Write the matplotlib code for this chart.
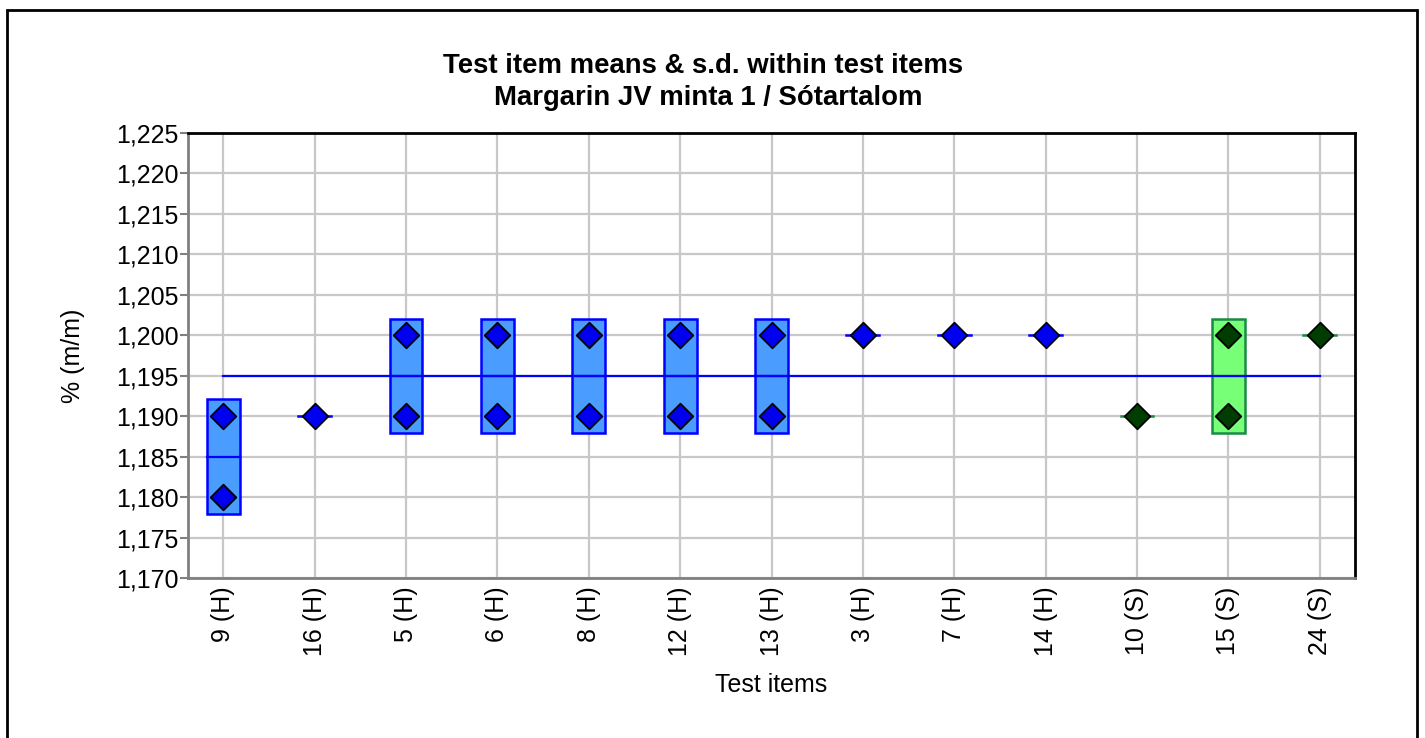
import numpy as np
import matplotlib.pyplot as plt
from matplotlib.patches import Rectangle
from matplotlib.ticker import FuncFormatter

plt.rcParams['font.family'] = ['Liberation Sans', 'DejaVu Sans']

# Test items and their individual results
items = ['9 (H)', '16 (H)', '5 (H)', '6 (H)', '8 (H)', '12 (H)', '13 (H)',
         '3 (H)', '7 (H)', '14 (H)', '10 (S)', '15 (S)', '24 (S)']
results = [[1.190, 1.180], [1.190], [1.200, 1.190], [1.200, 1.190],
           [1.200, 1.190], [1.200, 1.190], [1.200, 1.190], [1.200],
           [1.200], [1.200], [1.190], [1.200, 1.190], [1.200]]
item_type = ['H'] * 10 + ['S'] * 3

box_fill = {'H': '#4a9dff', 'S': '#77ff77'}
box_edge = {'H': '#0000ff', 'S': '#1b8a45'}
marker_col = {'H': '#0000ee', 'S': '#003d00'}

fig = plt.figure(figsize=(14.25, 7.38), dpi=100)
ax = fig.add_axes([188 / 1425, 1 - 578 / 738, (1355 - 188) / 1425, (578 - 133) / 738])

# outer frame
fig.patches.append(Rectangle((7 / 1425, -0.05), (1417 - 7) / 1425, 1.05 - 10 / 738,
                             transform=fig.transFigure, fill=False,
                             edgecolor='black', linewidth=2, zorder=0))

w = 0.36
x = np.arange(len(items))
means = [np.mean(r) for r in results]
grand_mean = np.mean(means)

for i, (vals, t) in enumerate(zip(results, item_type)):
    vals = np.array(vals)
    m = vals.mean()
    sd = vals.std(ddof=1) if len(vals) > 1 else 0.0
    if sd > 0:
        ax.add_patch(Rectangle((i - w / 2, m - sd), w, 2 * sd, facecolor=box_fill[t],
                               edgecolor=box_edge[t], linewidth=1.8, zorder=3))
        ax.plot([i - w / 2, i + w / 2], [m, m], color=box_edge[t], lw=1.6, zorder=4)
    else:
        ax.plot([i - w / 2, i + w / 2], [m, m], color=box_edge[t], lw=1.8, zorder=3)

ax.plot([x[0], x[-1]], [grand_mean, grand_mean], color='#0000ff', lw=1.6, zorder=5)

for i, (vals, t) in enumerate(zip(results, item_type)):
    ax.scatter([i] * len(vals), vals, marker='D', s=170, color=marker_col[t],
               edgecolor='black', linewidth=1.3, zorder=6)

ax.set_xlim(-0.385, len(items) - 1 + 0.385)
ax.set_ylim(1.170, 1.225)
ax.set_yticks(np.arange(1.170, 1.2251, 0.005))
ax.yaxis.set_major_formatter(FuncFormatter(lambda v, p: f'{v:.3f}'.replace('.', ',')))
ax.set_xticks(x)
ax.set_xticklabels(items, rotation=90)
ax.tick_params(axis='y', labelsize=18, length=6, width=1.5, color='#808080', pad=1)
ax.tick_params(axis='x', labelsize=18, length=0, pad=6)
ax.grid(True, color='#c8c8c8', linewidth=1.6, zorder=0)
ax.set_axisbelow(True)

for s in ['left', 'bottom']:
    ax.spines[s].set_color('#808080')
    ax.spines[s].set_linewidth(2)
for s in ['top', 'right']:
    ax.spines[s].set_color('black')
    ax.spines[s].set_linewidth(2)

ax.set_ylabel('% (m/m)', fontsize=18, labelpad=22)
ax.set_xlabel('Test items', fontsize=18, labelpad=12)
fig.text(703 / 1425, 1 - 66 / 738, 'Test item means & s.d. within test items',
         ha='center', va='center', fontsize=19.8, fontweight='bold')
fig.text(708 / 1425, 1 - 98 / 738, 'Margarin JV minta 1 / Sótartalom',
         ha='center', va='center', fontsize=19.8, fontweight='bold')

fig.savefig('out.png', dpi=100)
